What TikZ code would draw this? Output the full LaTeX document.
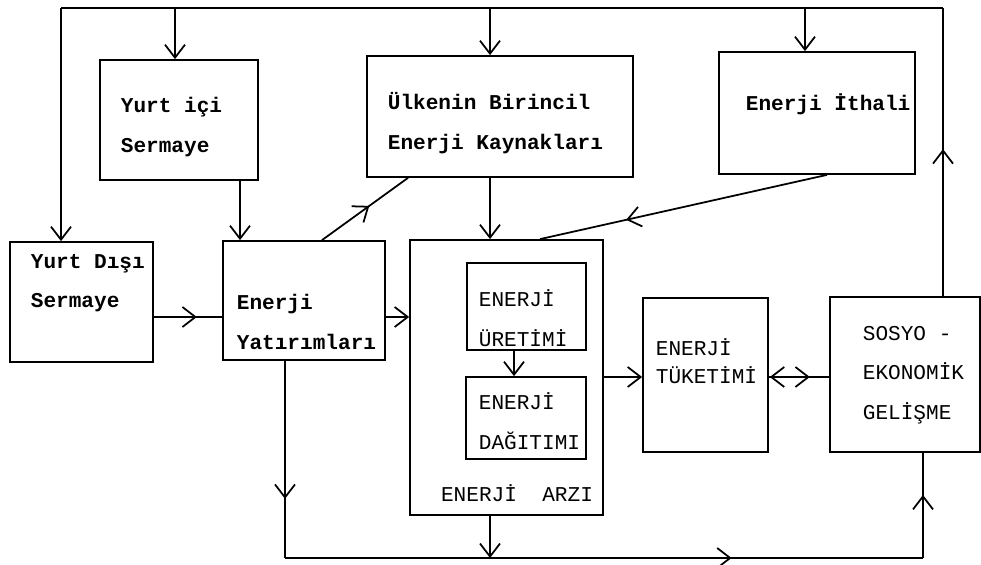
\documentclass[tikz,border=0pt]{standalone}
\usepackage{fontspec}
\setmonofont{Liberation Mono}
\usetikzlibrary{arrows.meta,decorations.markings}

\begin{document}
\begin{tikzpicture}[
  >={Straight Barb[length=2.6mm,width=4mm]},
  line width=1pt,
  box/.style = {draw, inner sep=0pt},
  txt/.style = {anchor=west, align=left, inner sep=0pt, font=\ttfamily\fontsize{12}{22.5}\selectfont},
  txtb/.style = {txt, font=\ttfamily\bfseries\fontsize{12}{22.5}\selectfont},
  midarrow/.style = {postaction={decorate}, decoration={markings, mark=at position #1 with {\arrow{>}}}},
  midarrow/.default = 0.5
]
\useasboundingbox (0,0) rectangle (19.62,11.28);

% boxes
\node[box, minimum width=3.16cm, minimum height=2.4cm] (ys) at (3.58,8.88) {};
\node[box, minimum width=5.32cm, minimum height=2.42cm] (uk) at (10.0,8.95) {};
\node[box, minimum width=3.92cm, minimum height=2.44cm] (it) at (16.34,9.02) {};
\node[box, minimum width=2.86cm, minimum height=2.4cm] (yd) at (1.63,5.24) {};
\node[box, minimum width=3.24cm, minimum height=2.38cm] (ey) at (6.08,5.27) {};
\node[box, minimum width=3.86cm, minimum height=5.5cm] (ea) at (10.13,3.73) {};
\node[box, minimum width=2.38cm, minimum height=1.74cm] (eu) at (10.53,5.15) {};
\node[box, minimum width=2.4cm, minimum height=1.64cm] (ed) at (10.52,2.92) {};
\node[box, minimum width=2.5cm, minimum height=3.08cm] (et) at (14.11,3.78) {};
\node[box, minimum width=3.0cm, minimum height=3.1cm] (sg) at (18.1,3.79) {};

% texts
\node[txtb] (ysT) at (2.4,8.74) {Yurt içi\\Sermaye};
\node[txtb] (ukT) at (7.74,8.82) {Ülkenin Birincil\\Enerji Kaynakları};
\node[txtb] (itT) at (14.9,9.2) {Enerji İthali};
\node[txtb] (ydT) at (0.6,5.62) {Yurt Dışı\\Sermaye};
\node[txtb] (eyT) at (4.72,4.84) {Enerji\\Yatırımları};
\node[txt] (euT) at (9.56,4.92) {ENERJİ\\ÜRETİMİ};
\node[txt] (edT) at (9.56,2.86) {ENERJİ\\DAĞITIMI};
\node[txt, anchor=center] (eaT) at (10.34,1.42) {ENERJİ~~ARZI};
\node[txt, font=\ttfamily\fontsize{12}{16}\selectfont] (etT) at (13.1,4.06) {ENERJİ\\TÜKETİMİ};
\node[txt] (sgT) at (17.24,3.78) {SOSYO -\\EKONOMİK\\GELİŞME};

% top loop
\coordinate (t1) at (1.22,11.12);
\coordinate (t2) at (3.5,11.12);
\coordinate (t3) at (9.8,11.12);
\coordinate (t4) at (16.1,11.12);
\coordinate (t5) at (18.86,11.12);
\draw (t1) -- (t5);
\draw[->] (t1) -- (t1 |- yd.north);
\draw[->] (t2) -- (t2 |- ys.north);
\draw[->] (t3) -- (t3 |- uk.north);
\draw[->] (t4) -- (t4 |- it.north);
\draw[midarrow=0.51] (t5 |- sg.north) -- (t5);

% capital and investment
\coordinate (c1) at (4.8,0);
\coordinate (h1) at (0,4.94);
\draw[->] (c1 |- ys.south) -- (c1 |- ey.north);
\draw[midarrow=0.63] (h1 -| yd.east) -- (h1 -| ey.west);
\draw[->] (h1 -| ey.east) -- (h1 -| ea.west);
\draw[midarrow=0.55] ([xshift=0.36cm]ey.north) -- ([xshift=-1.84cm]uk.south);

% supply
\draw[->] (t3 |- uk.south) -- (t3 |- ea.north);
\draw[midarrow=0.7] ([xshift=0.2cm]it.south) -- ([xshift=0.67cm]ea.north);
\draw[->] ([xshift=-0.25cm]eu.south) -- ([xshift=-0.25cm]eu.south |- ed.north);

% consumption
\coordinate (h2) at (0,3.74);
\draw[->] (h2 -| ea.east) -- (h2 -| et.west);
\draw[postaction={decorate}, decoration={markings,
  mark=at position 0.27 with {\arrow{<}},
  mark=at position 0.68 with {\arrow{>}}}] (h2 -| et.east) -- (h2 -| sg.west);

% bottom loop
\coordinate (b1) at (5.7,0.12);
\coordinate (b2) at (18.46,0.12);
\draw[midarrow=0.7] (b1 |- ey.south) -- (b1);
\draw[midarrow=0.7] (b1) -- (b2);
\draw[midarrow=0.6] (b2) -- (b2 |- sg.south);
\draw[->] (t3 |- ea.south) -- (t3 |- b1);

\end{tikzpicture}
\end{document}
